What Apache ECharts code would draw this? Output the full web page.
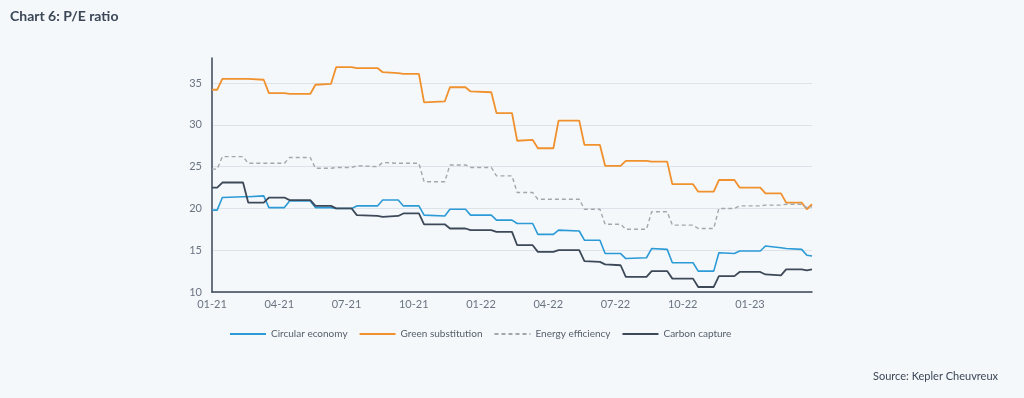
<!DOCTYPE html>
<html>
<head>
<meta charset="utf-8">
<script src="https://cdn.jsdelivr.net/npm/echarts@6/dist/echarts.min.js"></script>
<style>
  html, body { margin: 0; padding: 0; background: #f4f8fb; }
  #chart { width: 1024px; height: 398px; }
</style>
</head>
<body>
<div id="chart"></div>
<script>
// weekly index (week 0 = first week of Jan 2021); points where a monthly step starts / ends
const weeks = [0, 1, 2, 6, 7, 10, 11, 14, 15, 19, 20, 23, 24, 27, 28, 32, 33, 36, 37, 40,
  41, 45, 46, 49, 50, 54, 55, 58, 59, 62, 63, 66, 67, 71, 72, 75, 76, 79, 80, 84,
  85, 88, 89, 93, 94, 97, 98, 101, 102, 106, 107, 110, 111, 114, 115, 116];

const quarterLabels = ['01-21', '04-21', '07-21', '10-21', '01-22', '04-22', '07-22', '10-22', '01-23'];

const circularEconomy = [19.8, 19.8, 21.3, 21.4, 21.4, 21.5, 20.1, 20.1, 20.9, 20.9, 20.1, 20.1, 20.0, 20.0,
  20.3, 20.3, 21.0, 21.0, 20.3, 20.3, 19.2, 19.1, 19.9, 19.9, 19.2, 19.2, 18.6, 18.6,
  18.2, 18.2, 16.9, 16.9, 17.4, 17.3, 16.2, 16.2, 14.6, 14.6, 14.0, 14.1, 15.2, 15.1,
  13.5, 13.5, 12.5, 12.5, 14.7, 14.6, 14.9, 14.9, 15.5, 15.3, 15.2, 15.1, 14.4, 14.3];

const greenSubstitution = [34.2, 34.2, 35.5, 35.5, 35.5, 35.4, 33.8, 33.8, 33.7, 33.7, 34.8, 34.9, 36.9, 36.9,
  36.8, 36.8, 36.3, 36.2, 36.1, 36.1, 32.7, 32.8, 34.5, 34.5, 34.0, 33.9, 31.4, 31.4,
  28.1, 28.2, 27.2, 27.2, 30.5, 30.5, 27.6, 27.6, 25.1, 25.1, 25.7, 25.7, 25.6, 25.6,
  22.9, 22.9, 22.0, 22.0, 23.4, 23.4, 22.5, 22.5, 21.8, 21.8, 20.7, 20.7, 19.9, 20.5];

const energyEfficiency = [24.7, 24.7, 26.2, 26.2, 25.4, 25.4, 25.4, 25.4, 26.1, 26.1, 24.8, 24.8, 24.9, 24.9,
  25.1, 25.0, 25.5, 25.4, 25.4, 25.4, 23.2, 23.2, 25.2, 25.2, 24.9, 24.9, 23.9, 23.9,
  21.9, 21.9, 21.1, 21.1, 21.1, 21.1, 19.9, 19.9, 18.1, 18.1, 17.5, 17.5, 19.6, 19.6,
  18.0, 18.0, 17.6, 17.6, 20.0, 20.0, 20.3, 20.3, 20.4, 20.4, 20.5, 20.5, 20.1, 20.2];

const carbonCapture = [22.5, 22.5, 23.1, 23.1, 20.7, 20.7, 21.3, 21.3, 21.0, 21.0, 20.3, 20.3, 20.0, 20.0,
  19.2, 19.1, 19.0, 19.1, 19.4, 19.4, 18.1, 18.1, 17.6, 17.6, 17.4, 17.4, 17.2, 17.2,
  15.6, 15.6, 14.8, 14.8, 15.0, 15.0, 13.7, 13.6, 13.3, 13.2, 11.8, 11.8, 12.5, 12.5,
  11.6, 11.6, 10.6, 10.6, 11.9, 11.9, 12.4, 12.4, 12.1, 12.0, 12.7, 12.7, 12.6, 12.7];

const pairs = vals => weeks.map((w, i) => [w, vals[i]]);

const textColor = '#3b4656';
const labelColor = '#6a7380';
const fontFamily = 'Lato, "Noto Sans", sans-serif';

const chart = echarts.init(document.getElementById('chart'), null, { renderer: 'canvas' });

const makeLine = (name, vals, color, width, type) => ({
  name: name,
  type: 'line',
  data: pairs(vals),
  symbol: 'none',
  smooth: false,
  lineStyle: { color: color, width: width, type: type },
  itemStyle: { color: color }
});

chart.setOption({
  backgroundColor: '#f4f8fb',
  animation: false,
  textStyle: { fontFamily: fontFamily },
  title: [
    {
      text: 'Chart 6: P/E ratio',
      left: 5, top: 4,
      textStyle: { fontSize: 14, fontWeight: 'bold', color: textColor, fontFamily: fontFamily }
    },
    {
      text: 'Source: Kepler Cheuvreux',
      right: 21, top: 366,
      textStyle: { fontSize: 11, fontWeight: 'normal', color: textColor, fontFamily: fontFamily }
    }
  ],
  legend: {
    left: 224, top: 324,
    itemWidth: 36, itemHeight: 10,
    itemGap: 11,
    itemStyle: { opacity: 0 },
    textStyle: { fontSize: 10, color: '#555e6a', fontFamily: fontFamily },
    data: ['Circular economy', 'Green substitution', 'Energy efficiency', 'Carbon capture']
  },
  grid: { left: 212, right: 212, top: 58, bottom: 106 },
  xAxis: {
    type: 'value',
    min: 0, max: 116, interval: 13,
    axisLine: { show: true, lineStyle: { color: '#3b4656', width: 1.5 } },
    axisTick: { show: false },
    splitLine: { show: false },
    axisLabel: {
      color: labelColor, fontSize: 11, margin: 7,
      showMaxLabel: false,
      formatter: v => quarterLabels[Math.round(v / 13)] || ''
    }
  },
  yAxis: {
    type: 'value',
    min: 10, max: 38, interval: 5,
    axisLine: { show: true, lineStyle: { color: '#3b4656', width: 1.5 } },
    axisTick: { show: false },
    splitLine: { show: true, showMaxLine: false, lineStyle: { color: '#dce3eb', width: 1 } },
    axisLabel: { color: labelColor, fontSize: 11, margin: 10, showMaxLabel: false }
  },
  series: [
    makeLine('Circular economy', circularEconomy, '#2b9ad6', 1.6, 'solid'),
    makeLine('Green substitution', greenSubstitution, '#f0912d', 1.8, 'solid'),
    makeLine('Energy efficiency', energyEfficiency, '#a3a7ac', 1.4, [4, 3]),
    makeLine('Carbon capture', carbonCapture, '#3d4858', 1.8, 'solid')
  ]
});
</script>
</body>
</html>
